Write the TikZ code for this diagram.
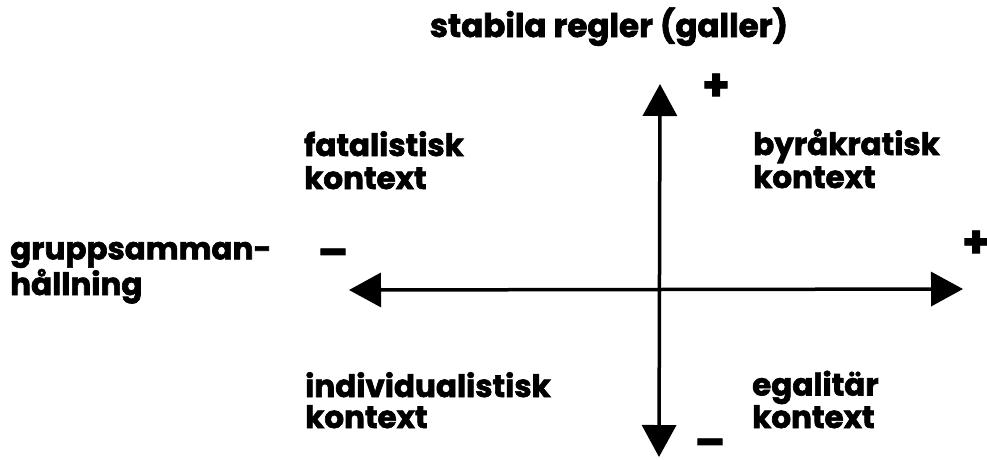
\documentclass[tikz,border=0pt]{standalone}
\usepackage{fontspec}
\setmainfont{Poppins}[UprightFont=* Bold, BoldFont=* Bold, FakeBold=2]
\usetikzlibrary{arrows.meta}
\begin{document}
\begin{tikzpicture}[x=1pt,y=-1pt,
  lbl/.style={inner sep=0pt, anchor=base west, align=left, font=\fontsize{31}{33}\selectfont},
  sgn/.style={inner sep=0pt, font=\fontsize{44}{44}\selectfont},
  axis/.style={line width=3.5pt, {Triangle[length=32pt,width=34pt]}-{Triangle[length=32pt,width=34pt]}}]
\useasboundingbox (0,0) rectangle (987,459);
\coordinate (top) at (660,84);
\coordinate (bot) at (659,457);
\coordinate (lft) at (349,290);
\coordinate (rgt) at (963,289);
\draw[axis] (bot) -- (top);
\draw[axis] (lft) -- (rgt);
\node[lbl, anchor=base, font=\fontsize{32.5}{33}\selectfont] (title) at (609,37) {stabila regler (galler)};
\node[lbl] (fat) at (304,189) {fatalistisk\\kontext};
\node[lbl] (byr) at (753,188) {byråkratisk\\kontext};
\node[lbl, font=\fontsize{31}{28}\selectfont] (grp) at (10,295) {gruppsamman-\\hållning};
\node[lbl, font=\fontsize{31}{31}\selectfont] (ind) at (305,428) {individualistisk\\kontext};
\node[lbl, font=\fontsize{31}{31}\selectfont] (ega) at (752,428) {egalitär\\kontext};
\node[sgn] (ptop) at (716,87) {+};
\node[sgn] (prgt) at (976,244) {+};
\node[sgn] (mlft) at (333,258) {–};
\node[sgn] (mbot) at (710,448) {–};
\end{tikzpicture}
\end{document}
